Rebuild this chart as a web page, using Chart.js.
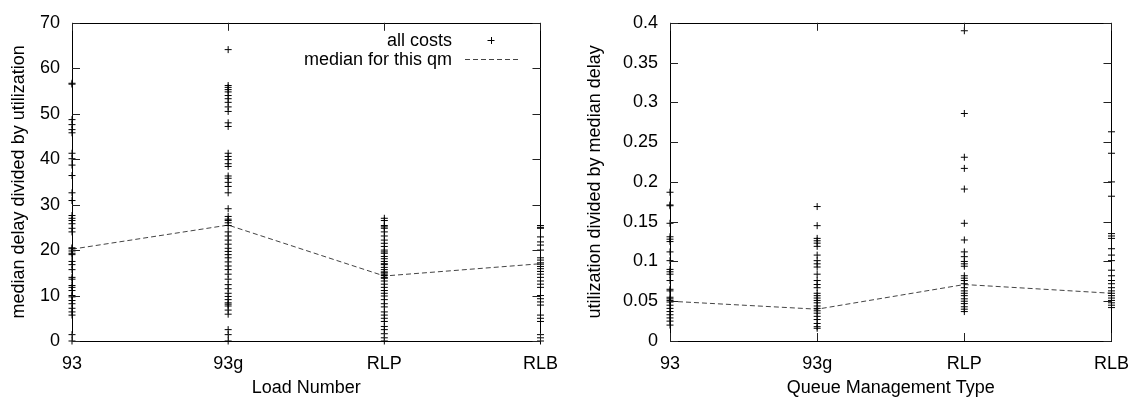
<!DOCTYPE html>
<html>
<head>
<meta charset="utf-8">
<script src="https://cdn.jsdelivr.net/npm/chart.js@4"></script>
<style>
  body { margin: 0; background: #fff; }
  #wrap { position: relative; width: 1141px; height: 400px; }
  .pane { position: absolute; top: 0; }
  .key { position: absolute; left: 150px; width: 302px; text-align: right;
         font: 18px "Liberation Sans", Arial, sans-serif; line-height: 20px; color: #000; }
</style>
</head>
<body>
<div id="wrap">
  <div class="pane" style="left:0"><canvas id="left" width="570" height="400"></canvas></div>
  <div class="pane" style="left:570px"><canvas id="right" width="571" height="400"></canvas></div>
  <div class="key" style="top:30px">all costs</div>
  <div class="key" style="top:49px">median for this qm</div>
</div>
<script>
// categories on the x axis
var categories = ['93', '93g', 'RLP', 'RLB'];

// left panel: median delay divided by utilization
var delay93 = [56.5, 56.7, 48.7, 47.6, 46.5, 45.8, 41.3, 40.1, 38.7, 36.4, 32.6, 30.9, 27.6, 27.0, 26.5, 25.8,
  24.8, 24.0, 20.5, 20.3, 19.8, 19.3, 19.0, 17.5, 16.8, 15.7, 14.0, 13.6, 12.2, 11.8, 11.1, 10.0, 9.7, 8.9,
  8.2, 7.2, 6.4, 5.7, 1.4, 0];
var delay93g = [64.1, 56.2, 55.8, 55.3, 54.8, 54.0, 53.3, 52.5, 51.5, 50.5, 48.0, 47.2, 41.3, 40.6, 39.9, 39.0,
  38.4, 36.3, 35.8, 34.9, 34.0, 32.6, 29.1, 27.4, 26.8, 26.5, 26.0, 25.4, 24.0, 23.1, 22.2, 21.3, 20.4, 19.7,
  19.0, 18.3, 17.4, 16.5, 15.7, 14.7, 13.6, 12.4, 11.5, 10.5, 9.8, 9.1, 8.4, 8.1, 7.7, 6.8, 5.9, 2.5, 1.4, 0];
var delayRLP = [27.0, 26.5, 25.4, 25.1, 24.8, 24.0, 23.1, 22.2, 21.5, 20.8, 20.0, 19.6, 19.3, 18.6, 18.1, 17.5,
  17.0, 16.8, 16.2, 15.7, 15.2, 15.0, 14.7, 14.4, 14.0, 13.8, 13.2, 12.5, 11.8, 11.1, 10.5, 9.9, 9.1, 8.2,
  7.5, 6.4, 5.7, 5.0, 4.3, 3.2, 2.5, 1.6, 0.7, 0];
var delayRLB = [25.4, 25.0, 24.8, 22.9, 21.8, 21.1, 20.0, 18.3, 17.8, 17.2, 16.9, 16.4, 15.9, 15.3, 14.7, 14.0,
  13.2, 12.5, 11.8, 10.0, 9.3, 8.6, 7.9, 5.7, 5.0, 4.3, 1.4, 0.7, 0];
var delayMedian = [20.2, 25.5, 14.3, 17.0];

// right panel: utilization divided by median delay
var util93 = [0.187, 0.171, 0.170, 0.148, 0.131, 0.128, 0.125, 0.112, 0.101, 0.090, 0.087, 0.084, 0.076, 0.065,
  0.063, 0.055, 0.053, 0.051, 0.049, 0.045, 0.041, 0.037, 0.033, 0.029, 0.025, 0.020];
var util93g = [0.169, 0.145, 0.129, 0.126, 0.123, 0.119, 0.108, 0.101, 0.097, 0.093, 0.084, 0.076, 0.071, 0.067,
  0.060, 0.057, 0.054, 0.051, 0.048, 0.044, 0.041, 0.038, 0.035, 0.031, 0.027, 0.022, 0.018, 0.016];
var utilRLP = [0.390, 0.286, 0.231, 0.217, 0.191, 0.148, 0.127, 0.112, 0.106, 0.100, 0.097, 0.094, 0.082, 0.079,
  0.076, 0.072, 0.067, 0.063, 0.060, 0.057, 0.053, 0.050, 0.047, 0.043, 0.040, 0.037];
var utilRLB = [0.263, 0.236, 0.200, 0.182, 0.135, 0.132, 0.129, 0.116, 0.108, 0.101, 0.089, 0.082, 0.076, 0.072,
  0.067, 0.063, 0.060, 0.057, 0.054, 0.051, 0.048, 0.045, 0.042];
var utilMedian = [0.050, 0.040, 0.071, 0.060];

var FONT = { family: '"Liberation Sans", Arial, sans-serif', size: 18 };

function points(cols) {
  var out = [];
  cols.forEach(function (col, i) {
    col.forEach(function (v) { out.push({ x: i, y: v }); });
  });
  return out;
}

// gnuplot style frame with inward ticks
var frame = {
  id: 'frame',
  afterDraw: function (chart, args, opts) {
    var c = chart.ctx, a = chart.chartArea;
    var xs = chart.scales.x, ys = chart.scales.y;
    c.save();
    c.strokeStyle = '#000';
    c.lineWidth = 1;
    c.strokeRect(Math.round(a.left) + 0.5, Math.round(a.top) + 0.5,
      Math.round(a.right - a.left), Math.round(a.bottom - a.top));
    c.strokeStyle = '#222';
    c.beginPath();
    ys.ticks.forEach(function (t) {
      var y = Math.round(ys.getPixelForValue(t.value)) + 0.5;
      c.moveTo(a.left, y); c.lineTo(a.left + 8, y);
      c.moveTo(a.right, y); c.lineTo(a.right - 8, y);
    });
    xs.ticks.forEach(function (t) {
      var x = Math.round(xs.getPixelForValue(t.value)) + 0.5;
      c.moveTo(x, a.bottom); c.lineTo(x, a.bottom - 8);
      c.moveTo(x, a.top); c.lineTo(x, a.top + 8);
    });
    c.stroke();
    if (opts.key) {
      // legend samples
      c.strokeStyle = '#000';
      c.beginPath();
      c.moveTo(487.5, 40.5); c.lineTo(494.5, 40.5);
      c.moveTo(491.5, 37); c.lineTo(491.5, 44);
      c.stroke();
      c.strokeStyle = '#444';
      c.setLineDash([5, 3]);
      c.beginPath();
      c.moveTo(465, 59.5); c.lineTo(518, 59.5);
      c.stroke();
    }
    c.restore();
  }
};

function makeChart(id, cols, medians, yMax, yStep, yTitle, xTitle, yWidth, padRight, titlePad, key) {
  return new Chart(document.getElementById(id), {
    type: 'scatter',
    data: {
      datasets: [{
        label: 'all costs',
        data: points(cols),
        pointStyle: 'cross',
        pointRadius: 3.5,
        borderColor: '#000',
        borderWidth: 1,
        clip: false
      }, {
        type: 'line',
        label: 'median for this qm',
        data: medians.map(function (v, i) { return { x: i, y: v }; }),
        borderColor: '#444',
        borderWidth: 1,
        borderDash: [5, 3],
        pointRadius: 0,
        fill: false
      }]
    },
    options: {
      responsive: false,
      animation: false,
      layout: { padding: { top: 16, right: padRight, left: 0, bottom: 0 } },
      plugins: { legend: { display: false }, tooltip: { enabled: false }, frame: { key: key } },
      scales: {
        x: {
          type: 'linear', min: 0, max: 3,
          grid: { display: false, drawTicks: false },
          border: { display: false },
          ticks: {
            stepSize: 1, padding: 12, color: '#000', font: FONT, maxRotation: 0,
            callback: function (v) { return categories[v]; }
          },
          title: { display: true, text: xTitle, color: '#000', font: FONT, padding: { top: 0, bottom: 1 } },
          afterFit: function (s) { s.height = 59; }
        },
        y: {
          min: 0, max: yMax,
          grid: { display: false, drawTicks: false },
          border: { display: false },
          ticks: {
            stepSize: yStep, padding: 12, color: '#000', font: FONT,
            callback: function (v) { return String(+v.toFixed(2)); }
          },
          title: { display: true, text: yTitle, color: '#000', font: FONT, padding: { top: titlePad, bottom: 0 } },
          afterFit: function (s) { s.width = yWidth; }
        }
      }
    },
    plugins: [frame]
  });
}

makeChart('left', [delay93, delay93g, delayRLP, delayRLB], delayMedian, 70, 10,
  'median delay divided by utilization', 'Load Number', 72, 27, 8, true);
makeChart('right', [util93, util93g, utilRLP, utilRLB], utilMedian, 0.4, 0.05,
  'utilization divided by median delay', 'Queue Management Type', 100, 22, 14, false);
</script>
</body>
</html>
